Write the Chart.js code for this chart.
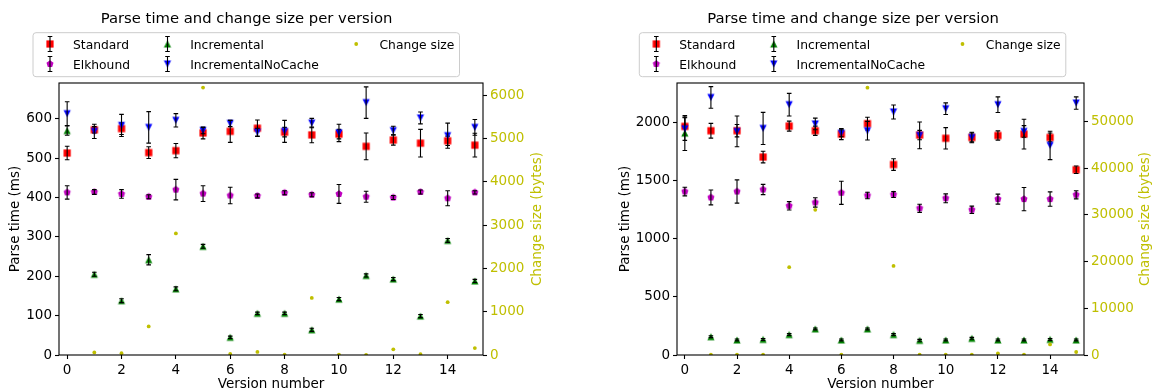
<!DOCTYPE html>
<html><head><meta charset="utf-8">
<script src="https://cdn.jsdelivr.net/npm/chart.js@4.4.0/dist/chart.umd.min.js"></script>
<style>
html,body{margin:0;padding:0;background:#fff;}
#wrap{position:relative;width:1152px;height:392px;overflow:hidden;background:#fff;}
canvas{position:absolute;top:0;}
</style></head><body>
<div id="wrap">
<canvas id="c1" width="576" height="392" style="left:0px"></canvas>
<canvas id="c2" width="576" height="392" style="left:576px"></canvas>
</div>
<script>
// ---------- data ----------
const versions = [0,1,2,3,4,5,6,7,8,9,10,11,12,13,14,15];
const xTicks = [0,2,4,6,8,10,12,14];
const seriesNames = ['Standard','Elkhound','Incremental','IncrementalNoCache','Change size'];
const chartTitle = 'Parse time and change size per version';
const xLabel = 'Version number';
const yLabel = 'Parse time (ms)';
const y2Label = 'Change size (bytes)';

// left panel
const leftTimeTicks = [0,100,200,300,400,500,600];
const leftSizeTicks = [0,1000,2000,3000,4000,5000,6000];
const leftStandard       = [513,572,575,514,519,564,568,576,566,559,561,530,546,538,544,533];
const leftStandardErr    = [17,8,15,15,18,15,28,21,12,20,12,34,13,35,12,30];
const leftElkhound       = [413,414,409,402,420,410,405,404,412,407,409,402,400,414,398,413];
const leftElkhoundErr    = [17,6,11,5,26,20,21,5,5,5,24,14,5,5,19,4];
const leftIncremental    = [570,205,138,242,168,276,45,106,106,64,142,202,193,99,291,188];
const leftIncrementalErr = [12,5,5,13,5,5,3,3,3,4,4,4,4,4,5,4];
const leftNoCache        = [613,568,583,578,596,570,588,566,568,589,564,641,570,602,557,578];
const leftNoCacheErr     = [30,18,28,40,17,8,8,10,28,12,22,40,11,15,32,20];
const leftChangeSize     = [null,60,40,660,2810,6180,25,70,10,1320,10,3,130,20,1220,160];

// right panel
const rightTimeTicks = [0,500,1000,1500,2000];
const rightSizeTicks = [0,10000,20000,30000,40000,50000];
const rightStandard       = [1963,1926,1926,1700,1966,1926,1897,1987,1636,1889,1861,1868,1885,1897,1868,1591];
const rightStandardErr    = [75,63,53,50,43,40,47,55,50,40,92,38,40,128,38,32];
const rightElkhound       = [1404,1353,1404,1421,1281,1310,1393,1370,1378,1260,1346,1247,1339,1339,1339,1376];
const rightElkhoundErr    = [37,64,100,44,36,40,99,28,25,35,38,32,43,100,62,35];
const rightIncremental    = [1906,157,129,134,176,224,129,224,176,126,129,143,129,129,134,129];
const rightIncrementalErr = [150,8,8,8,8,8,8,8,8,8,8,8,8,8,8,8];
const rightNoCache        = [1943,2212,1920,1946,2150,1984,1905,1926,2087,1886,2115,1868,2150,1920,1800,2164];
const rightNoCacheErr     = [100,93,132,138,97,50,30,80,60,115,50,45,67,50,122,53];
const rightChangeSize     = [null,100,100,100,18790,31070,100,57210,19070,100,100,100,350,100,2270,640];

// ---------- styling ----------
const FONT = "'DejaVu Sans', 'Liberation Sans', sans-serif";
const RED = '#ff0000', MAG = '#bf00bf', GRN = '#008000', BLU = '#0000ff', YEL = '#bfbf00';

function markerCanvas(shape, color, size) {
  const S = 14, m = S / 2, h = size / 2;
  const c = document.createElement('canvas'); c.width = S; c.height = S;
  const g = c.getContext('2d'); g.fillStyle = color; g.beginPath();
  if (shape === 'up') { g.moveTo(m, m - h); g.lineTo(m - h, m + h); g.lineTo(m + h, m + h); }
  else if (shape === 'down') { g.moveTo(m, m + h); g.lineTo(m - h, m - h); g.lineTo(m + h, m - h); }
  else if (shape === 'square') { g.rect(m - h, m - h, size, size); }
  else if (shape === 'pent') {
    for (let k = 0; k < 5; k++) {
      const a = -Math.PI / 2 + k * 2 * Math.PI / 5;
      const px = m + h * Math.cos(a), py = m + h * Math.sin(a);
      if (k) g.lineTo(px, py); else g.moveTo(px, py);
    }
  }
  g.closePath(); g.fill();
  return c;
}
const M = {
  std: markerCanvas('square', RED, 7.2),
  elk: markerCanvas('pent', MAG, 7.4),
  inc: markerCanvas('up', GRN, 7.2),
  noc: markerCanvas('down', BLU, 7.2)
};

function drawBar(ctx, x, yTop, yBot) {
  ctx.beginPath();
  ctx.moveTo(x, yTop); ctx.lineTo(x, yBot);
  ctx.moveTo(x - 2.3, yTop); ctx.lineTo(x + 2.3, yTop);
  ctx.moveTo(x - 2.3, yBot); ctx.lineTo(x + 2.3, yBot);
  ctx.stroke();
}

const errorBars = {
  id: 'errorBars',
  afterDatasetDraw(chart, args) {
    const ds = chart.data.datasets[args.index];
    if (!ds.errs) return;
    const xs = chart.scales.x, ys = chart.scales[ds.yAxisID];
    const ctx = chart.ctx;
    ctx.save();
    ctx.strokeStyle = '#000'; ctx.lineWidth = 1.1;
    ds.data.forEach((p, i) => {
      const e = ds.errs[i];
      if (p.y == null || e == null) return;
      drawBar(ctx, xs.getPixelForValue(p.x), ys.getPixelForValue(p.y + e), ys.getPixelForValue(p.y - e));
    });
    ctx.restore();
  }
};

const decor = {
  id: 'decor',
  afterDraw(chart, args, o) {
    const ctx = chart.ctx, a = chart.chartArea;
    ctx.save();
    // frame (spines)
    ctx.strokeStyle = '#000'; ctx.lineWidth = 1.1;
    ctx.strokeRect(a.left, a.top, a.right - a.left, a.bottom - a.top);
    // title
    ctx.fillStyle = '#000'; ctx.font = '14.8px ' + FONT;
    ctx.textAlign = 'center'; ctx.textBaseline = 'alphabetic';
    ctx.fillText(chartTitle, o.titleX, 23);
    // right y label
    ctx.save();
    ctx.translate(o.y2LabelX, (a.top + a.bottom) / 2);
    ctx.rotate(-Math.PI / 2);
    ctx.fillStyle = YEL; ctx.font = '13.5px ' + FONT;
    ctx.textAlign = 'center'; ctx.textBaseline = 'middle';
    ctx.fillText(y2Label, 0, 0);
    ctx.restore();
    // legend
    const lx = o.legendX, ly = 32.7, lw = 426.5, lh = 44;
    ctx.beginPath();
    ctx.roundRect(lx, ly, lw, lh, 3);
    ctx.fillStyle = 'rgba(255,255,255,0.8)'; ctx.fill();
    ctx.strokeStyle = '#cccccc'; ctx.lineWidth = 1; ctx.stroke();
    const mx = [17, 134.5, 323.2], tx = [40, 157.2, 346.5], ry = [44, 64];
    const entries = [
      {name: seriesNames[0], c: 0, r: 0, img: M.std},
      {name: seriesNames[1], c: 0, r: 1, img: M.elk},
      {name: seriesNames[2], c: 1, r: 0, img: M.inc},
      {name: seriesNames[3], c: 1, r: 1, img: M.noc},
      {name: seriesNames[4], c: 2, r: 0, img: null}
    ];
    ctx.font = '12.3px ' + FONT; ctx.textAlign = 'left'; ctx.textBaseline = 'alphabetic';
    entries.forEach(en => {
      const x = lx + mx[en.c], y = ry[en.r];
      if (en.img) {
        ctx.drawImage(en.img, x - en.img.width / 2, y - en.img.height / 2);
        ctx.strokeStyle = '#000'; ctx.lineWidth = 1.1;
        drawBar(ctx, x, y - 7.5, y + 7.5);
      } else {
        ctx.beginPath(); ctx.arc(x, y, 1.9, 0, Math.PI * 2); ctx.fillStyle = YEL; ctx.fill();
      }
      ctx.fillStyle = '#000';
      ctx.fillText(en.name, lx + tx[en.c], y + 4.8);
    });
    ctx.restore();
  }
};

function buildChart(id, P) {
  const mk = arr => versions.map((v, i) => ({x: v, y: arr[i]}));
  const pointDs = (label, arr, errs, img) => ({
    label, data: mk(arr), errs, yAxisID: 'y', showLine: false,
    pointStyle: img, pointRadius: 4, pointHoverRadius: 4, pointBorderWidth: 0
  });
  const datasets = [
    {label: seriesNames[4], data: mk(P.chg), yAxisID: 'y2', showLine: false, pointStyle: 'circle',
     pointRadius: 1.9, pointHoverRadius: 1.9, pointBackgroundColor: YEL, pointBorderWidth: 0},
    pointDs(seriesNames[3], P.noc, P.nocErr, M.noc),
    pointDs(seriesNames[2], P.inc, P.incErr, M.inc),
    pointDs(seriesNames[1], P.elk, P.elkErr, M.elk),
    pointDs(seriesNames[0], P.std, P.stdErr, M.std)
  ];
  const tickFont = {family: FONT, size: 13.5};
  const setTicks = arr => (s => { s.ticks = arr.map(v => ({value: v})); });
  return new Chart(document.getElementById(id), {
    type: 'scatter',
    data: {datasets},
    options: {
      animation: false, responsive: false, devicePixelRatio: 1,
      layout: {padding: {top: 83, left: 0, right: 0, bottom: 0}},
      plugins: {legend: {display: false}, tooltip: {enabled: false}, title: {display: false},
        decor: {titleX: P.titleX, legendX: P.legendX, y2LabelX: P.y2LabelX}},
      scales: {
        x: {type: 'linear', position: 'bottom', min: -0.3, max: 15.3,
          afterBuildTicks: setTicks(xTicks), afterFit: s => { s.height = 37; },
          grid: {display: true, drawOnChartArea: false, drawTicks: true, tickLength: 4, tickColor: '#000', tickWidth: 1.1},
          border: {display: false},
          ticks: {color: '#000', font: tickFont, padding: 3, maxRotation: 0, autoSkip: false, callback: v => String(v)},
          title: {display: true, text: xLabel, color: '#000', font: {family: FONT, size: 13.5, lineHeight: 1}, padding: {top: 0, bottom: 0.75}}},
        y: {type: 'linear', position: 'left', min: 0, max: P.yMax,
          afterBuildTicks: setTicks(P.yTicks), afterFit: s => { s.width = P.yW; },
          grid: {display: true, drawOnChartArea: false, drawTicks: true, tickLength: 4, tickColor: '#000', tickWidth: 1.1},
          border: {display: false},
          ticks: {color: '#000', font: tickFont, padding: 3, autoSkip: false, callback: v => String(v)},
          title: {display: true, text: yLabel, color: '#000', font: {family: FONT, size: 13.5, lineHeight: 1.2}, padding: {top: P.yTitlePad, bottom: 0}}},
        y2: {type: 'linear', position: 'right', min: 0, max: P.y2Max,
          afterBuildTicks: setTicks(P.y2Ticks), afterFit: s => { s.width = P.y2W; },
          grid: {display: true, drawOnChartArea: false, drawTicks: true, tickLength: 4, tickColor: '#000', tickWidth: 1.1},
          border: {display: false},
          ticks: {color: YEL, font: tickFont, padding: 3, autoSkip: false, callback: v => String(v)}}
      }
    },
    plugins: [errorBars, decor]
  });
}

buildChart('c1', {
  std: leftStandard, stdErr: leftStandardErr, elk: leftElkhound, elkErr: leftElkhoundErr,
  inc: leftIncremental, incErr: leftIncrementalErr, noc: leftNoCache, nocErr: leftNoCacheErr,
  chg: leftChangeSize, yTicks: leftTimeTicks, y2Ticks: leftSizeTicks,
  yMax: 690.8, y2Max: 6286, yW: 59, y2W: 93, yTitlePad: 6.9,
  titleX: 246.5, legendX: 33, y2LabelX: 537
});
buildChart('c2', {
  std: rightStandard, stdErr: rightStandardErr, elk: rightElkhound, elkErr: rightElkhoundErr,
  inc: rightIncremental, incErr: rightIncrementalErr, noc: rightNoCache, nocErr: rightNoCacheErr,
  chg: rightChangeSize, yTicks: rightTimeTicks, y2Ticks: rightSizeTicks,
  yMax: 2336, y2Max: 58217, yW: 101, y2W: 68, yTitlePad: 40.9,
  titleX: 277, legendX: 63.3, y2LabelX: 569
});
</script>
</body></html>
